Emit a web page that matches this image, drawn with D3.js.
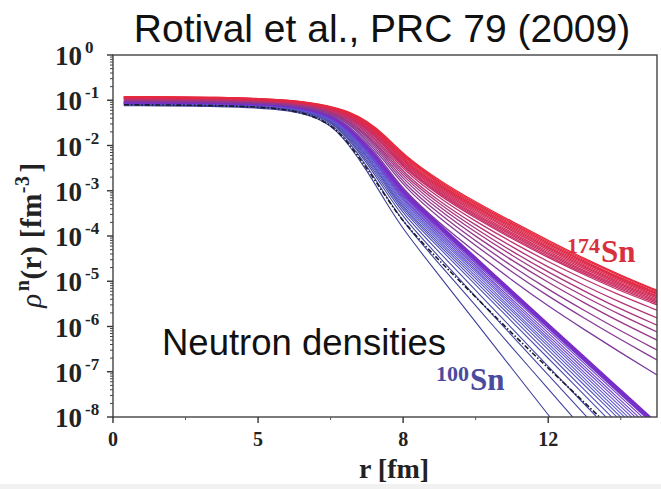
<!DOCTYPE html>
<html>
<head>
<meta charset="utf-8">
<script src="https://cdn.jsdelivr.net/npm/d3@7"></script>
<style>
body { margin: 0; background: #fff; }
</style>
</head>
<body>
<div id="fig"></div>
<script>
const radii = [0.3, 3, 5, 6, 6.5, 7, 7.5, 8, 9, 10, 11, 12, 13, 14, 15];

const isotopes = [100, 102, 104, 106, 108, 110, 112, 114, 116, 118, 120, 122, 124, 126, 128, 130, 132,
	134, 136, 138, 140, 142, 144, 146, 148, 150, 152, 154, 156, 158, 160, 162, 164, 166, 168, 170, 172, 174];

// log10 of rho_n(r) [fm^-3], one row per isotope
const log10Rho = [
	[-1.12,-1.13,-1.20,-1.50,-1.98,-2.55,-3.22,-3.86,-4.88,-5.90,-6.93,-7.95,-8.97,-9.99,-11.0],
	[-1.10,-1.11,-1.18,-1.47,-1.91,-2.45,-3.08,-3.70,-4.62,-5.54,-6.46,-7.38,-8.30,-9.21,-10.13],
	[-1.10,-1.11,-1.17,-1.44,-1.86,-2.38,-2.99,-3.60,-4.47,-5.34,-6.20,-7.07,-7.94,-8.81,-9.68],
	[-1.09,-1.10,-1.16,-1.43,-1.83,-2.33,-2.92,-3.52,-4.36,-5.20,-6.04,-6.88,-7.72,-8.55,-9.39],
	[-1.08,-1.09,-1.15,-1.41,-1.80,-2.29,-2.86,-3.46,-4.27,-5.08,-5.89,-6.70,-7.52,-8.33,-9.14],
	[-1.08,-1.09,-1.15,-1.40,-1.77,-2.25,-2.82,-3.41,-4.21,-5.01,-5.80,-6.60,-7.40,-8.20,-9.00],
	[-1.07,-1.08,-1.14,-1.40,-1.76,-2.23,-2.79,-3.37,-4.16,-4.94,-5.73,-6.51,-7.30,-8.08,-8.87],
	[-1.07,-1.08,-1.14,-1.39,-1.74,-2.20,-2.75,-3.33,-4.11,-4.89,-5.66,-6.44,-7.22,-8.00,-8.78],
	[-1.07,-1.08,-1.13,-1.38,-1.72,-2.18,-2.72,-3.29,-4.06,-4.83,-5.61,-6.38,-7.15,-7.92,-8.69],
	[-1.06,-1.07,-1.13,-1.37,-1.70,-2.15,-2.68,-3.25,-4.02,-4.78,-5.55,-6.31,-7.08,-7.85,-8.61],
	[-1.06,-1.07,-1.12,-1.36,-1.69,-2.13,-2.66,-3.22,-3.98,-4.74,-5.50,-6.26,-7.02,-7.77,-8.53],
	[-1.06,-1.07,-1.12,-1.36,-1.68,-2.11,-2.63,-3.19,-3.94,-4.69,-5.45,-6.20,-6.95,-7.70,-8.45],
	[-1.05,-1.06,-1.12,-1.35,-1.66,-2.09,-2.61,-3.16,-3.91,-4.65,-5.40,-6.14,-6.89,-7.63,-8.38],
	[-1.05,-1.06,-1.11,-1.34,-1.65,-2.07,-2.58,-3.13,-3.87,-4.61,-5.34,-6.08,-6.82,-7.56,-8.30],
	[-1.05,-1.06,-1.11,-1.33,-1.63,-2.04,-2.54,-3.09,-3.82,-4.56,-5.29,-6.02,-6.76,-7.49,-8.22],
	[-1.04,-1.05,-1.10,-1.33,-1.62,-2.03,-2.52,-3.06,-3.79,-4.52,-5.26,-5.99,-6.72,-7.45,-8.18],
	[-1.04,-1.05,-1.10,-1.32,-1.60,-2.00,-2.48,-3.02,-3.75,-4.48,-5.22,-5.95,-6.68,-7.41,-8.14],
	[-1.03,-1.04,-1.09,-1.30,-1.56,-1.94,-2.42,-2.98,-3.72,-4.36,-4.98,-5.55,-6.07,-6.58,-7.07],
	[-1.02,-1.03,-1.08,-1.28,-1.52,-1.89,-2.35,-2.89,-3.61,-4.21,-4.80,-5.33,-5.82,-6.29,-6.74],
	[-1.01,-1.02,-1.07,-1.27,-1.50,-1.84,-2.29,-2.83,-3.52,-4.11,-4.67,-5.18,-5.65,-6.10,-6.52],
	[-1.00,-1.01,-1.06,-1.25,-1.47,-1.80,-2.24,-2.76,-3.44,-4.01,-4.54,-5.03,-5.48,-5.91,-6.30],
	[-0.99,-1.00,-1.06,-1.24,-1.45,-1.77,-2.19,-2.70,-3.37,-3.92,-4.43,-4.91,-5.34,-5.75,-6.12],
	[-0.98,-0.99,-1.05,-1.23,-1.43,-1.74,-2.15,-2.65,-3.30,-3.84,-4.34,-4.80,-5.22,-5.62,-5.97],
	[-0.98,-0.99,-1.04,-1.22,-1.41,-1.70,-2.10,-2.60,-3.24,-3.76,-4.24,-4.69,-5.10,-5.47,-5.81],
	[-0.97,-0.98,-1.03,-1.21,-1.39,-1.67,-2.06,-2.54,-3.17,-3.68,-4.14,-4.57,-4.96,-5.32,-5.64],
	[-0.96,-0.97,-1.03,-1.20,-1.37,-1.64,-2.02,-2.50,-3.11,-3.61,-4.06,-4.48,-4.86,-5.22,-5.52],
	[-0.96,-0.97,-1.03,-1.19,-1.36,-1.62,-2.00,-2.47,-3.08,-3.58,-4.03,-4.45,-4.83,-5.18,-5.49],
	[-0.96,-0.97,-1.02,-1.18,-1.35,-1.61,-1.98,-2.45,-3.06,-3.55,-3.99,-4.41,-4.80,-5.15,-5.46],
	[-0.95,-0.96,-1.02,-1.18,-1.34,-1.59,-1.96,-2.42,-3.03,-3.52,-3.96,-4.38,-4.77,-5.12,-5.43],
	[-0.95,-0.96,-1.02,-1.17,-1.33,-1.57,-1.93,-2.40,-3.00,-3.48,-3.93,-4.35,-4.73,-5.09,-5.40],
	[-0.94,-0.95,-1.01,-1.17,-1.32,-1.56,-1.91,-2.37,-2.97,-3.45,-3.89,-4.31,-4.70,-5.06,-5.37],
	[-0.94,-0.95,-1.01,-1.16,-1.31,-1.54,-1.89,-2.35,-2.94,-3.42,-3.86,-4.28,-4.67,-5.03,-5.34],
	[-0.94,-0.95,-1.01,-1.16,-1.30,-1.53,-1.87,-2.32,-2.92,-3.39,-3.83,-4.25,-4.64,-5.00,-5.32],
	[-0.93,-0.94,-1.00,-1.15,-1.29,-1.51,-1.85,-2.30,-2.89,-3.36,-3.80,-4.22,-4.61,-4.97,-5.29],
	[-0.93,-0.94,-1.00,-1.15,-1.28,-1.50,-1.83,-2.27,-2.86,-3.34,-3.77,-4.19,-4.58,-4.95,-5.27],
	[-0.93,-0.94,-1.00,-1.14,-1.27,-1.48,-1.81,-2.25,-2.83,-3.31,-3.74,-4.16,-4.56,-4.93,-5.25],
	[-0.92,-0.93,-0.99,-1.14,-1.26,-1.47,-1.79,-2.22,-2.81,-3.28,-3.71,-4.13,-4.53,-4.89,-5.22],
	[-0.92,-0.93,-0.99,-1.13,-1.25,-1.45,-1.77,-2.20,-2.78,-3.25,-3.68,-4.10,-4.50,-4.87,-5.20]
];

// the black dash-dot curve lying among the light isotopes
const dashedCurve = [-1.10,-1.11,-1.18,-1.50,-1.95,-2.50,-3.10,-3.70,-4.55,-5.35,-6.15,-6.92,-7.68,-8.45,-9.20];

const yTickPowers = [0, -1, -2, -3, -4, -5, -6, -7, -8];
const xMajorTicks = [0, 4, 8, 12];
const xTickLabels = ["0", "5", "8", "12"];
const xMinorTicks = [2, 6, 10, 14];

const W = 661, H = 489;
const marge = {dalt: 55, dreta: 4, baix: 72, esquerra: 113};

const svg = d3.select("#fig").append("svg")
	.attr("width", W)
	.attr("height", H)
	.style("font-family", "'Liberation Serif', 'DejaVu Serif', serif");

svg.append("rect")
	.attr("x", 0).attr("y", 484)
	.attr("width", W).attr("height", H - 484)
	.attr("fill", "#f1f1f1");

const x = d3.scaleLinear().domain([0, 15]).range([marge.esquerra, W - marge.dreta]);
const y = d3.scaleLog().domain([1e-8, 1]).range([H - marge.baix, marge.dalt]);

const color = d3.scaleLinear()
	.domain([100, 116, 132, 134, 150, 174])
	.range(["#3c3f98", "#5f5ad0", "#7a2cc8", "#7c3c9c", "#c5306a", "#e8283c"]);

svg.append("defs").append("clipPath").attr("id", "plot")
	.append("rect")
	.attr("x", x(0)).attr("y", y(1))
	.attr("width", x(15) - x(0)).attr("height", y(1e-8) - y(1));

const line = d3.line()
	.x((d, i) => x(radii[i]))
	.y(d => y(Math.pow(10, d)))
	.curve(d3.curveBasis);

const curves = svg.append("g").attr("clip-path", "url(#plot)");

curves.selectAll("path.iso")
	.data(isotopes.map((a, i) => ({a: a, v: log10Rho[i]})))
	.enter()
	.append("path")
	.attr("class", "iso")
	.attr("d", d => line(d.v))
	.attr("fill", "none")
	.attr("stroke", d => color(d.a))
	.attr("stroke-width", d => d.a >= 128 && d.a <= 132 ? 2.2 : (d.a < 128 ? 1.1 : 1.3));

curves.append("path")
	.attr("d", line(dashedCurve))
	.attr("fill", "none")
	.attr("stroke", "#1a1a2a")
	.attr("stroke-width", 1.6)
	.attr("stroke-dasharray", "5,2,1.5,2");

// frame
svg.append("rect")
	.attr("x", x(0)).attr("y", y(1))
	.attr("width", x(15) - x(0)).attr("height", y(1e-8) - y(1))
	.attr("fill", "none")
	.attr("stroke", "#444")
	.attr("stroke-width", 1.4);

// y axis
const yAxis = svg.append("g").attr("transform", `translate(${x(0)},0)`);
const minors = [];
yTickPowers.forEach(p => { if (p > -8) for (let k = 2; k <= 9; k++) minors.push(k * Math.pow(10, p - 1)); });
yAxis.selectAll("line.minor").data(minors).enter().append("line")
	.attr("x1", -3).attr("x2", 0)
	.attr("y1", d => y(d)).attr("y2", d => y(d))
	.attr("stroke", "#444").attr("stroke-width", 1);
yAxis.selectAll("line.major").data(yTickPowers).enter().append("line")
	.attr("x1", -6).attr("x2", 0)
	.attr("y1", d => y(Math.pow(10, d))).attr("y2", d => y(Math.pow(10, d)))
	.attr("stroke", "#333").attr("stroke-width", 1.4);
const yLab = yAxis.selectAll("text").data(yTickPowers).enter().append("text")
	.attr("x", -58)
	.attr("y", d => y(Math.pow(10, d)) + 10)
	.attr("font-weight", "bold")
	.attr("font-size", 27)
	.attr("fill", "#222");
yLab.append("tspan").text("10");
yLab.append("tspan")
	.attr("dx", 3).attr("dy", -12)
	.attr("font-size", 17)
	.text(d => d === 0 ? "0" : "-" + (-d));

// x axis
const xAxis = svg.append("g").attr("transform", `translate(0,${y(1e-8)})`);
xAxis.selectAll("line.major").data(xMajorTicks).enter().append("line")
	.attr("x1", d => x(d)).attr("x2", d => x(d))
	.attr("y1", 0).attr("y2", 6)
	.attr("stroke", "#333").attr("stroke-width", 1.4);
xAxis.selectAll("line.minor").data(xMinorTicks).enter().append("line")
	.attr("x1", d => x(d)).attr("x2", d => x(d))
	.attr("y1", 0).attr("y2", 3)
	.attr("stroke", "#555").attr("stroke-width", 1);
xAxis.selectAll("text").data(xMajorTicks).enter().append("text")
	.attr("x", d => x(d))
	.attr("y", 29)
	.attr("text-anchor", "middle")
	.attr("font-weight", "bold")
	.attr("font-size", 20)
	.attr("fill", "#222")
	.text((d, i) => xTickLabels[i]);

// axis titles
svg.append("text")
	.attr("x", 394).attr("y", 478)
	.attr("text-anchor", "middle")
	.attr("font-weight", "bold")
	.attr("font-size", 28)
	.attr("fill", "#222")
	.text("r [fm]");

const yt = svg.append("text")
	.attr("transform", "translate(41,235) rotate(-90)")
	.attr("text-anchor", "middle")
	.attr("font-weight", "bold")
	.attr("font-size", 29)
	.attr("letter-spacing", 0.5)
	.attr("fill", "#222");
yt.append("tspan").attr("font-style", "italic").attr("font-weight", "normal").text("\u03C1");
yt.append("tspan").attr("dy", -12).attr("dx", 2).attr("font-size", 20).text("n");
yt.append("tspan").attr("dy", 12).text("(r) [fm");
yt.append("tspan").attr("dy", -12).attr("font-size", 20).text("-3");
yt.append("tspan").attr("dy", 12).attr("dx", 3).text("]");

// title and annotations
svg.append("text")
	.attr("x", 382).attr("y", 42)
	.attr("text-anchor", "middle")
	.attr("font-family", "'Liberation Sans', Arial, sans-serif")
	.attr("font-size", 39)
	.attr("fill", "#111")
	.text("Rotival et al., PRC 79 (2009)");

svg.append("text")
	.attr("x", 162).attr("y", 355)
	.attr("font-family", "'Liberation Sans', Arial, sans-serif")
	.attr("font-size", 36.5)
	.attr("fill", "#111")
	.text("Neutron densities");

function isoLabel(mass, xPos, yPos, col) {
	const t = svg.append("text")
		.attr("x", xPos).attr("y", yPos)
		.attr("font-weight", "bold")
		.attr("fill", col);
	t.append("tspan").attr("font-size", 22).attr("dy", -9).text(mass);
	t.append("tspan").attr("font-size", 31).attr("dy", 9).attr("dx", 1).text("Sn");
}
isoLabel(isotopes[0], 436, 390, "#4a4a9e");
isoLabel(isotopes[isotopes.length - 1], 567, 262, "#d8303e");
</script>
</body>
</html>
